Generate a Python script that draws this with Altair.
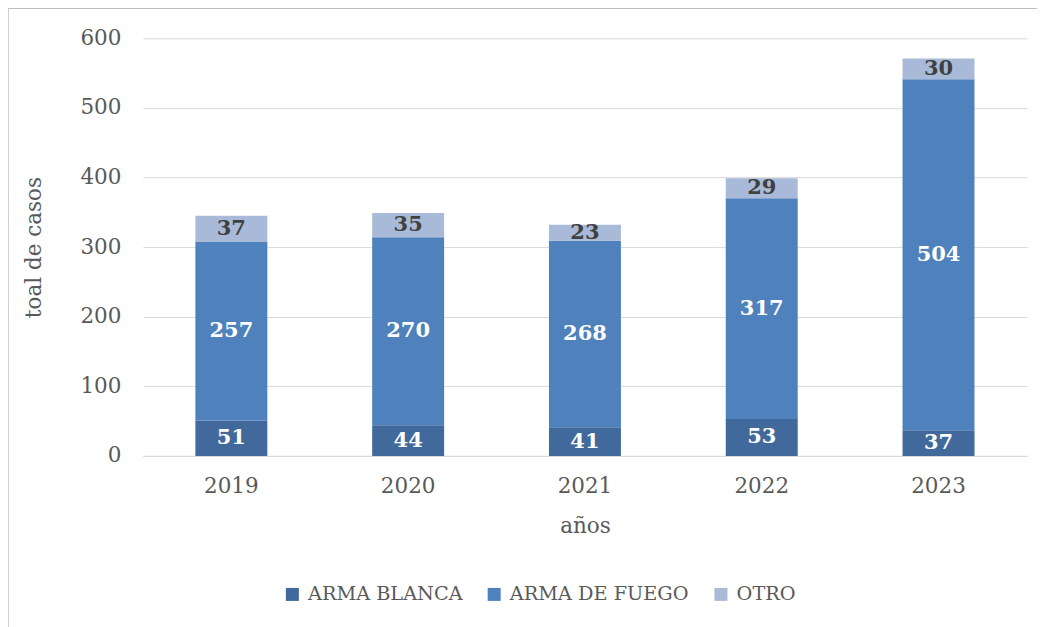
import altair as alt
import pandas as pd

years = ["2019", "2020", "2021", "2022", "2023"]
blanca = [51, 44, 41, 53, 37]
fuego = [257, 270, 268, 317, 504]
otro = [37, 35, 23, 29, 30]
series = ["ARMA BLANCA", "ARMA DE FUEGO", "OTRO"]
colors = ["#41699c", "#4f81bd", "#a9bad9"]

rows = []
for i, y in enumerate(years):
    for k, (s, vals) in enumerate(zip(series, [blanca, fuego, otro])):
        rows.append({"año": y, "tipo": s, "casos": vals[i], "orden": k})
df = pd.DataFrame(rows)

FONT = "DejaVu Serif"
W, H = 885, 418
PL, PT = 135, 30

base = alt.Chart(df)

bars = base.mark_bar().encode(
    x=alt.X("año:N", title="años",
            scale=alt.Scale(paddingInner=0.593, paddingOuter=0.297),
            axis=alt.Axis(labelAngle=0, ticks=False, domain=True, domainColor="#d9d9d9",
                          labelPadding=20, titlePadding=18, grid=False)),
    y=alt.Y("casos:Q", stack="zero", title="toal de casos",
            scale=alt.Scale(domain=[0, 600]),
            axis=alt.Axis(values=[0, 100, 200, 300, 400, 500, 600], ticks=False, domain=False,
                          labelPadding=22, titlePadding=34, gridColor="#d9d9d9")),
    color=alt.Color("tipo:N", title=None,
                    scale=alt.Scale(domain=series, range=colors),
                    legend=alt.Legend(orient="none", direction="horizontal",
                                      legendX=140, legendY=547,
                                      symbolType="square", symbolSize=169,
                                      symbolStrokeWidth=0, columnPadding=22,
                                      labelOffset=6, labelFontSize=19.3, labelLimit=0,
                                      labelFont=FONT, labelColor="#595959")),
    order=alt.Order("orden:Q"),
)

labels = base.transform_stack(
    stack="casos", groupby=["año"], as_=["y0", "y1"],
    sort=[alt.SortField("orden", order="ascending")]
).transform_calculate(
    mid="(datum.y0 + datum.y1) / 2"
).mark_text(font=FONT, fontSize=21, fontWeight="bold", baseline="middle").encode(
    x=alt.X("año:N"),
    y=alt.Y("mid:Q"),
    text=alt.Text("casos:Q"),
    color=alt.condition(alt.datum.tipo == "OTRO", alt.value("#404040"), alt.value("#ffffff")),
)

frame_df = pd.DataFrame({"a": [0]})
top_line = alt.Chart(frame_df).mark_rule(color="#bfbfbf", strokeWidth=1.5).encode(
    x=alt.value(-PL), x2=alt.value(1045), y=alt.value(-PT)
)
left_line = alt.Chart(frame_df).mark_rule(color="#bfbfbf", strokeWidth=1.5).encode(
    x=alt.value(-PL), y=alt.value(-PT), y2=alt.value(700)
)

chart = alt.layer(bars, labels, top_line, left_line).properties(
    width=W, height=H,
    autosize=alt.AutoSizeParams(type="none"),
    padding={"left": PL, "top": PT, "right": 10, "bottom": 200},
).configure_view(stroke=None).configure_axis(
    labelFont=FONT, titleFont=FONT, labelFontSize=21.5, titleFontSize=21.5,
    labelColor="#595959", titleColor="#595959", titleFontWeight="normal",
)

chart.save("out.html", embed_options={"renderer": "svg", "actions": False})
